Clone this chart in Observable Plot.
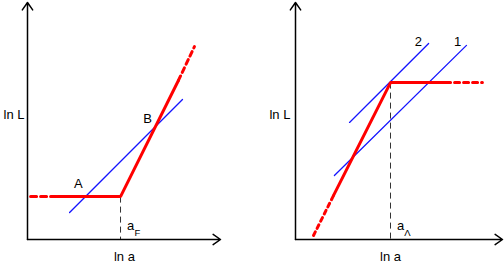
<!DOCTYPE html>
<html>
<head>
<meta charset="utf-8">
<script src="https://cdn.jsdelivr.net/npm/d3@7"></script>
<script src="https://cdn.jsdelivr.net/npm/@observablehq/plot@0.6"></script>
<style>
  html, body { margin: 0; padding: 0; background: #fff; }
  #chart { display: flex; width: 504px; height: 266px; }
  #chart svg { display: block; }
</style>
</head>
<body>
<div id="chart"></div>
<script>
// ---- shared axis extent (schematic units) ----
const lnAMax = 10;
const lnLMax = 10;
const axisLabels = { x: "ln a", y: "ln L" };

// ---- left panel ----
const leftRedDashedLow = [[0.16, 1.81], [1.55, 1.81]];
const leftRedSolid = [[1.55, 1.81], [4.82, 1.81], [7.82, 6.71]];
const leftRedDashedHigh = [[7.82, 6.71], [8.65, 8.14]];
const leftBlue = [[2.18, 1.14], [8.03, 5.91]];
const leftBreak = [4.82, 1.81];
const leftPointLabels = [
  { label: "A", x: 2.64, y: 2.36 },
  { label: "B", x: 6.22, y: 5.11 }
];
const leftBreakLabel = { main: "a", sub: "F" };

// ---- right panel ----
const rightRedDottedLow = [[0.87, 0.17], [1.84, 1.86]];
const rightRedSolid = [[1.84, 1.86], [4.59, 6.62], [7.25, 6.62]];
const rightRedDashedHigh = [[7.25, 6.62], [9.03, 6.62]];
const rightBlue1 = [[1.88, 2.70], [8.26, 8.19]];
const rightBlue2 = [[2.61, 4.94], [6.43, 8.27]];
const rightBreak = [4.59, 6.62];
const rightLineLabels = [
  { label: "2", x: 5.94, y: 8.35 },
  { label: "1", x: 7.83, y: 8.35 }
];
const rightBreakLabel = { main: "a", sub: "\u039B" };

const FONT = "'Liberation Sans', Arial, Helvetica, sans-serif";

function panel(opts) {
  const axes = [
    { x1: 0, y1: 0, x2: lnAMax, y2: 0 },
    { x1: 0, y1: 0, x2: 0, y2: lnLMax }
  ];
  const px = d => d[0], py = d => d[1];
  const redW = 3;
  return Plot.plot({
    width: 252,
    height: 266,
    marginLeft: opts.marginLeft,
    marginRight: opts.marginRight,
    marginTop: 2,
    marginBottom: 27,
    x: { domain: [0, lnAMax], axis: null },
    y: { domain: [0, lnLMax], axis: null },
    style: { fontFamily: FONT, fontSize: "13px", background: "#fff", color: "#000", overflow: "visible" },
    marks: [
      // break marker (dashed vertical)
      Plot.link([opts.brk], { x1: px, y1: py, x2: px, y2: () => 0, stroke: "#333", strokeWidth: 1, strokeDasharray: "6,4" }),
      // axes with arrows
      Plot.arrow(axes, { x1: "x1", y1: "y1", x2: "x2", y2: "y2", stroke: "#000", strokeWidth: 1.5, headLength: 9, headAngle: 70 }),
      // blue lines
      ...opts.blues.map(b => Plot.line(b, { x: px, y: py, stroke: "#1414ff", strokeWidth: 1.3 })),
      // red lines
      Plot.line(opts.redSolid, { x: px, y: py, stroke: "#ff0000", strokeWidth: redW, strokeLinejoin: "miter" }),
      ...opts.redDashed.map(r => Plot.line(r.data, { x: px, y: py, stroke: "#ff0000", strokeWidth: redW, strokeDasharray: r.dash })),
      // labels on the lines
      Plot.text(opts.labels, { x: "x", y: "y", text: "label", fontSize: 13, fill: "#000" }),
      // break labels
      Plot.text([opts.brkLabel], { x: () => opts.brk[0], y: () => 0, text: d => d.main, dx: opts.brkDx, dy: -14, fontSize: 13, fill: "#000" }),
      Plot.text([opts.brkLabel], { x: () => opts.brk[0], y: () => 0, text: d => d.sub, dx: opts.brkDx + 7, dy: -7, fontSize: 9.5, fill: "#000" }),
      // axis titles
      Plot.text([axisLabels], { x: () => opts.yLabelX, y: () => 5.25, text: d => d.y, textAnchor: "start", fontSize: 13, fill: "#000" }),
      Plot.text([axisLabels], { x: () => opts.brk[0] + opts.xLabelShift, y: () => -0.75, text: d => d.x, fontSize: 13, fill: "#000" })
    ]
  });
}

const chart = document.getElementById("chart");
chart.append(panel({
  marginLeft: 27, marginRight: 32,
  brk: leftBreak,
  blues: [leftBlue],
  redSolid: leftRedSolid,
  redDashed: [{ data: leftRedDashedLow, dash: "6,4" }, { data: leftRedDashedHigh, dash: "5,4" }],
  labels: leftPointLabels,
  brkLabel: leftBreakLabel,
  brkDx: 10,
  yLabelX: -1.24,
  xLabelShift: 0.2
}));
chart.append(panel({
  marginLeft: 43, marginRight: 2,
  brk: rightBreak,
  blues: [rightBlue1, rightBlue2],
  redSolid: rightRedSolid,
  redDashed: [{ data: rightRedDottedLow, dash: "4,4" }, { data: rightRedDashedHigh, dash: "5,4" }],
  labels: rightLineLabels,
  brkLabel: rightBreakLabel,
  brkDx: 10,
  yLabelX: -1.26,
  xLabelShift: 0.0
}));
</script>
</body>
</html>
